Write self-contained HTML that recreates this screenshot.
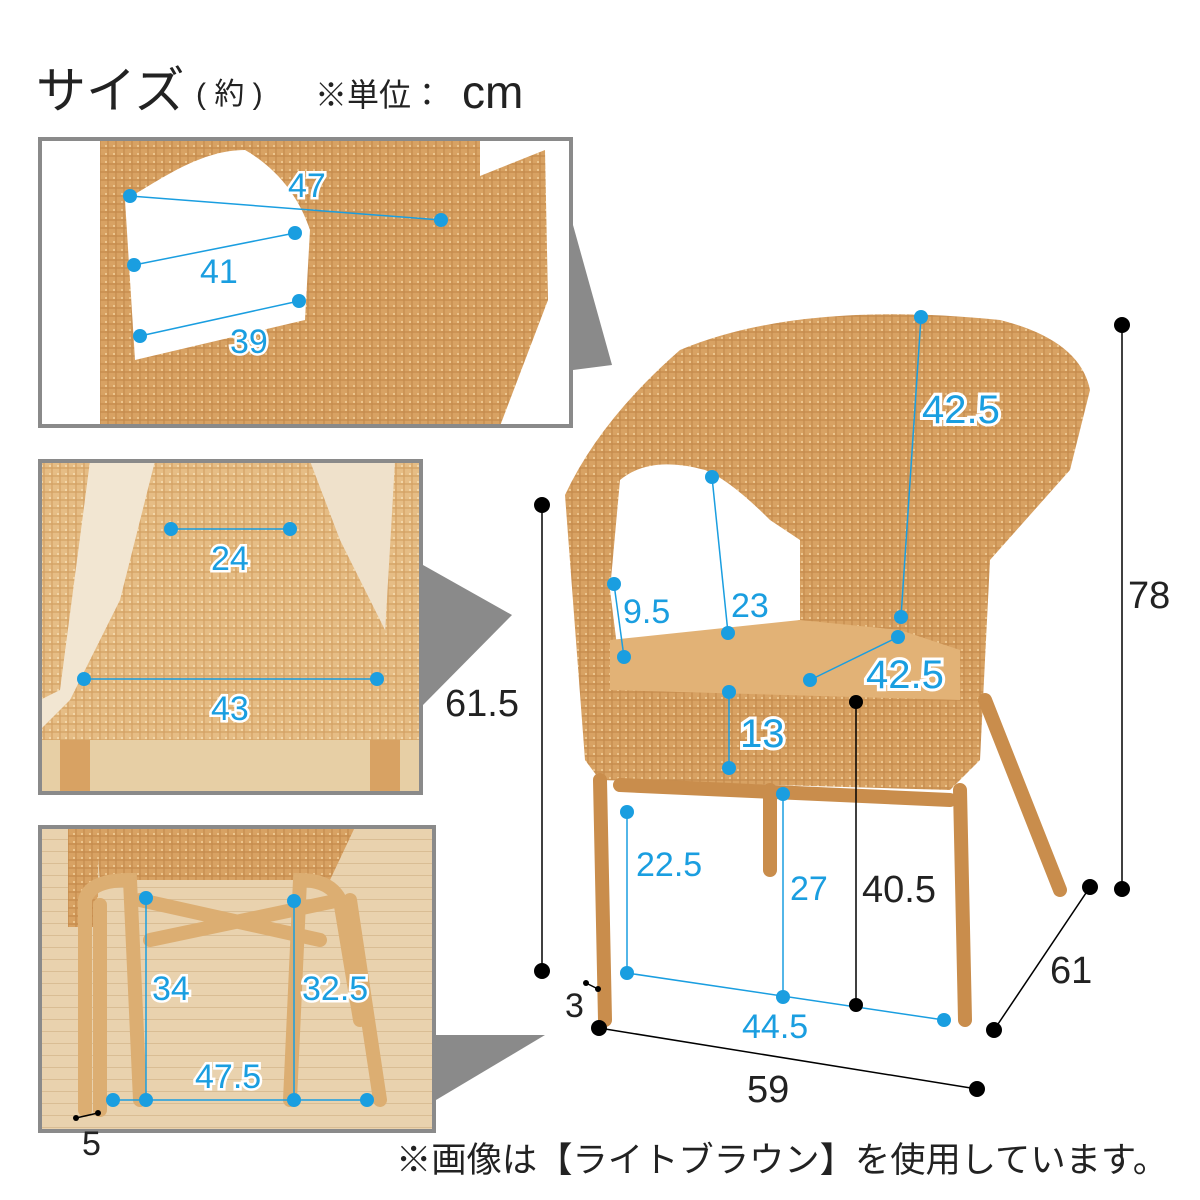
<!DOCTYPE html>
<html><head><meta charset="utf-8"><style>
body{margin:0;background:#fff;}
svg{display:block}
text{font-family:"Liberation Sans","Noto Sans CJK JP",sans-serif;}
</style></head><body>
<svg width="1200" height="1200" viewBox="0 0 1200 1200" xmlns="http://www.w3.org/2000/svg">
<defs>
<pattern id="wk" width="8" height="8" patternUnits="userSpaceOnUse">
<rect width="8" height="8" fill="#d8a263"/>
<path d="M0 4h8M4 0v8" stroke="#c48a4c" stroke-width="1.2"/>
<rect x="1" y="1" width="2" height="2" fill="#ecc58e"/>
</pattern>
<pattern id="wk2" width="8" height="8" patternUnits="userSpaceOnUse">
<rect width="8" height="8" fill="#e6bd85"/>
<path d="M0 4h8M4 0v8" stroke="#d4a164" stroke-width="1.2"/>
<rect x="1" y="1" width="2" height="2" fill="#f2d6a8"/>
</pattern>
<pattern id="fl" width="60" height="12" patternUnits="userSpaceOnUse">
<rect width="60" height="12" fill="#e9d2ae"/>
<path d="M0 11.5h60" stroke="#d9bd94" stroke-width="1"/>
</pattern>
</defs>
<!-- title -->
<text x="36" y="108" font-size="50" fill="#222">サイズ</text>
<text x="196" y="104" font-size="30" fill="#222">( 約 )</text>
<text x="315" y="106" font-size="32" fill="#222">※単位：</text>
<text x="462" y="108" font-size="46" fill="#222">cm</text>

<!-- connector triangles -->
<polygon points="573,225 573,370 612,365" fill="#8a8a8a"/>
<polygon points="423,565 423,705 512,615" fill="#8a8a8a"/>
<polygon points="436,1035 436,1100 545,1035" fill="#8a8a8a"/>

<!-- panel 1 -->
<g>
<rect x="40" y="139" width="531" height="287" fill="url(#wk)"/>
<path d="M135 360 L125 200 C160 180 200 150 245 150 C280 170 300 200 310 230 L305 320 Z" fill="#fff"/>
<rect x="40" y="139" width="60" height="287" fill="#fff"/>
<rect x="480" y="139" width="91" height="287" fill="#fff"/>
<path d="M470 180 L545 150 L548 300 L500 426 L470 426 Z" fill="url(#wk)"/>
<rect x="40" y="139" width="531" height="287" fill="none" stroke="#8a8a8a" stroke-width="4"/>
<g stroke="#1a9ee0" stroke-width="1.5"><line x1="130" y1="196" x2="441" y2="220"/><line x1="134" y1="265" x2="295" y2="233"/><line x1="140" y1="336" x2="299" y2="301"/></g>
<g fill="#1a9ee0"><circle cx="130" cy="196" r="7"/><circle cx="441" cy="220" r="7"/><circle cx="134" cy="265" r="7"/><circle cx="295" cy="233" r="7"/><circle cx="140" cy="336" r="7"/><circle cx="299" cy="301" r="7"/></g>
<g font-size="34" fill="#1a9ee0" stroke="#fff" stroke-width="5" paint-order="stroke"><text x="288" y="197">47</text><text x="200" y="283">41</text><text x="230" y="353">39</text></g>
</g>

<!-- panel 2 -->
<g>
<rect x="40" y="461" width="381" height="332" fill="url(#wk2)"/>
<path d="M40 461 L155 461 L120 600 L70 700 L40 730 Z" fill="#f2e6d2"/>
<path d="M40 461 L90 461 L60 690 L40 700 Z" fill="url(#wk2)"/>
<path d="M310 461 L421 461 L421 793 L390 793 L395 650 L340 540 Z" fill="#efe1cb"/>
<path d="M395 461 L421 461 L421 793 L395 793 L380 720 Z" fill="url(#wk2)"/>
<rect x="40" y="740" width="381" height="53" fill="#e7cfa5"/>
<rect x="60" y="740" width="30" height="53" fill="#d8a263"/>
<rect x="370" y="740" width="30" height="53" fill="#d8a263"/>
<rect x="40" y="461" width="381" height="332" fill="none" stroke="#8a8a8a" stroke-width="4"/>
<g stroke="#1a9ee0" stroke-width="1.5"><line x1="171" y1="529" x2="290" y2="529"/><line x1="84" y1="679" x2="377" y2="679"/></g>
<g fill="#1a9ee0"><circle cx="171" cy="529" r="7"/><circle cx="290" cy="529" r="7"/><circle cx="84" cy="679" r="7"/><circle cx="377" cy="679" r="7"/></g>
<g font-size="34" fill="#1a9ee0" stroke="#fff" stroke-width="5" paint-order="stroke"><text x="211" y="570">24</text><text x="211" y="720">43</text></g>
</g>

<!-- panel 3 -->
<g>
<rect x="40" y="827" width="394" height="304" fill="url(#fl)"/>
<path d="M95 827 L355 827 L330 880 L100 880 Z" fill="url(#wk)"/>
<rect x="68" y="827" width="30" height="100" fill="url(#wk)"/>
<g fill="none" stroke="#dcae72" stroke-width="14" stroke-linecap="round">
<path d="M85 1110 L85 900 Q90 880 130 880 L140 1100"/>
<path d="M100 1110 L100 905"/>
<path d="M360 1020 L340 900 Q330 880 300 880 L290 1100"/>
<path d="M380 1100 L350 900"/>
<path d="M150 940 L340 900 M140 900 L320 940"/>
</g>
<rect x="40" y="827" width="394" height="304" fill="none" stroke="#8a8a8a" stroke-width="4"/>
<g stroke="#1a9ee0" stroke-width="1.5"><line x1="146" y1="898" x2="146" y2="1100"/><line x1="294" y1="901" x2="294" y2="1100"/><line x1="113" y1="1100" x2="367" y2="1100"/></g>
<g fill="#1a9ee0"><circle cx="146" cy="898" r="7"/><circle cx="146" cy="1100" r="7"/><circle cx="294" cy="901" r="7"/><circle cx="294" cy="1100" r="7"/><circle cx="113" cy="1100" r="7"/><circle cx="367" cy="1100" r="7"/></g>
<g font-size="34" fill="#1a9ee0" stroke="#fff" stroke-width="5" paint-order="stroke"><text x="152" y="1000">34</text><text x="302" y="1000">32.5</text><text x="195" y="1088">47.5</text></g>
<line x1="76" y1="1118" x2="98" y2="1113" stroke="#000" stroke-width="1.5"/><circle cx="76" cy="1118" r="3"/><circle cx="98" cy="1113" r="3"/>
<text x="82" y="1155" font-size="34" fill="#222">5</text>
</g>

<!-- main chair -->
<g>
<path d="M565 495 Q600 420 680 350 Q800 300 1000 320 Q1080 340 1090 390 L1070 470 L990 560 L980 760 L950 790 L600 780 L585 760 Z" fill="url(#wk)"/>
<path d="M610 590 L620 480 Q650 455 705 470 Q730 480 770 520 L800 540 L800 620 L700 640 L620 670 Z" fill="#fff"/>
<path d="M610 640 L800 620 L900 630 L960 650 L960 700 L610 690 Z" fill="#e2b276"/>
<g fill="none" stroke="#c98d4c" stroke-width="14" stroke-linecap="round">
<path d="M600 780 L605 1020"/><path d="M960 790 L965 1020"/>
<path d="M770 790 L770 870"/><path d="M985 700 L1060 890"/>
<path d="M620 785 L950 800"/>
</g>
<g stroke="#1a9ee0" stroke-width="1.5"><line x1="921" y1="317" x2="901" y2="617"/><line x1="712" y1="477" x2="728" y2="633"/><line x1="614" y1="584" x2="624" y2="657"/><line x1="898" y1="637" x2="810" y2="680"/><line x1="729" y1="692" x2="729" y2="768"/><line x1="627" y1="812" x2="627" y2="973"/><line x1="783" y1="794" x2="783" y2="997"/><line x1="627" y1="973" x2="944" y2="1020"/></g>
<g fill="#1a9ee0"><circle cx="921" cy="317" r="7"/><circle cx="901" cy="617" r="7"/><circle cx="898" cy="637" r="7"/><circle cx="810" cy="680" r="7"/><circle cx="712" cy="477" r="7"/><circle cx="728" cy="633" r="7"/><circle cx="614" cy="584" r="7"/><circle cx="624" cy="657" r="7"/><circle cx="729" cy="692" r="7"/><circle cx="729" cy="768" r="7"/><circle cx="627" cy="812" r="7"/><circle cx="627" cy="973" r="7"/><circle cx="783" cy="794" r="7"/><circle cx="783" cy="997" r="7"/><circle cx="944" cy="1020" r="7"/></g>
<g font-size="40" fill="#1a9ee0" stroke="#fff" stroke-width="6" paint-order="stroke"><text x="922" y="423">42.5</text><text x="866" y="688">42.5</text><text x="740" y="747">13</text></g>
<g font-size="34" fill="#1a9ee0" stroke="#fff" stroke-width="5" paint-order="stroke"><text x="623" y="623">9.5</text><text x="731" y="617">23</text><text x="636" y="876">22.5</text><text x="790" y="900">27</text><text x="742" y="1038">44.5</text></g>
<g stroke="#000" stroke-width="1.5"><line x1="542" y1="505" x2="542" y2="971"/><line x1="1122" y1="325" x2="1122" y2="889"/><line x1="856" y1="702" x2="856" y2="1005"/><line x1="599" y1="1028" x2="977" y2="1089"/><line x1="1090" y1="887" x2="994" y2="1030"/><line x1="586" y1="983" x2="598" y2="989"/></g>
<g fill="#000"><circle cx="542" cy="505" r="8"/><circle cx="542" cy="971" r="8"/><circle cx="1122" cy="325" r="8"/><circle cx="1122" cy="889" r="8"/><circle cx="856" cy="702" r="7"/><circle cx="856" cy="1005" r="7"/><circle cx="599" cy="1028" r="8"/><circle cx="977" cy="1089" r="8"/><circle cx="1090" cy="887" r="8"/><circle cx="994" cy="1030" r="8"/><circle cx="586" cy="983" r="3"/><circle cx="598" cy="989" r="3"/></g>
<g font-size="38" fill="#222"><text x="445" y="716">61.5</text><text x="1128" y="608">78</text><text x="862" y="902">40.5</text><text x="1050" y="983">61</text><text x="747" y="1102">59</text><text x="565" y="1017" font-size="34">3</text></g>
</g>
<text x="396" y="1172" font-size="35" fill="#222" textLength="772" lengthAdjust="spacingAndGlyphs">※画像は【ライトブラウン】を使用しています。</text>
</svg>
</body></html>
